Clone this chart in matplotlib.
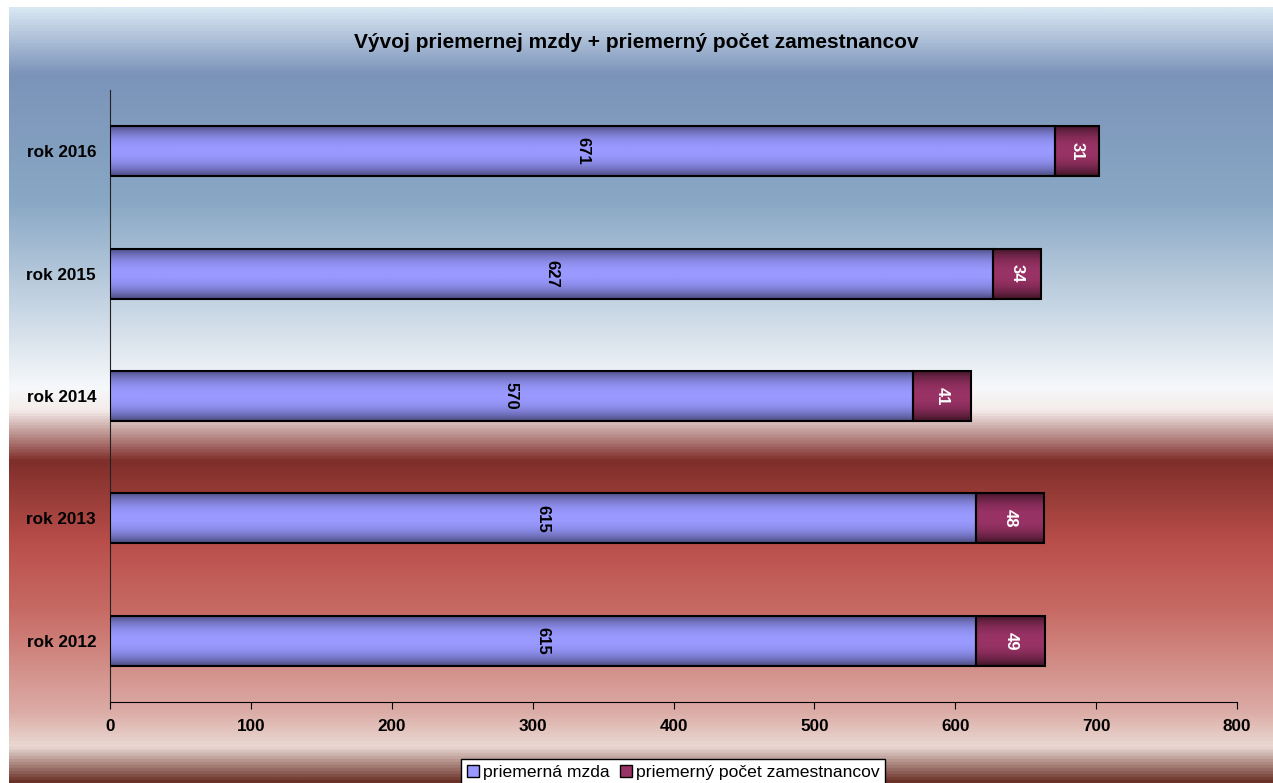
import numpy as np
import matplotlib.pyplot as plt
from matplotlib.colors import LinearSegmentedColormap
from matplotlib.patches import Patch

# Data
years = ['rok 2012', 'rok 2013', 'rok 2014', 'rok 2015', 'rok 2016']
mzda = [615, 615, 570, 627, 671]
pocet = [49, 48, 41, 34, 31]

plt.rcParams['font.family'] = ['Liberation Sans', 'DejaVu Sans']

fig = plt.figure(figsize=(12.73, 7.83), dpi=100)
fig.patch.set_facecolor('white')

# background gradient
bg = fig.add_axes([9 / 1273, 0, 1 - 9 / 1273, 1 - 7 / 783], zorder=0)
bg_stops = [(0.0, '#d9e7f3'), (0.085, '#7b93b9'), (0.25, '#89a8c5'),
            (0.49, '#f6f8fb'), (0.52, '#f4ecea'), (0.585, '#7f2e2a'),
            (0.69, '#b94e4a'), (0.78, '#c86b65'), (0.91, '#dcaca6'),
            (0.955, '#ead9d3'), (1.0, '#6a3128')]
bg_cmap = LinearSegmentedColormap.from_list('bg', bg_stops)
bg.imshow(np.linspace(0, 1, 512).reshape(-1, 1), aspect='auto', cmap=bg_cmap,
          extent=[0, 1, 1, 0])
bg.axis('off')

ax = fig.add_axes([110 / 1273, 81 / 783, 1127 / 1273, 612 / 783], zorder=1)
ax.patch.set_alpha(0)

y = np.arange(len(years))
h = 0.41
b1 = ax.barh(y, mzda, height=h, color='#9999ff', edgecolor='black', linewidth=1.5, zorder=3)
b2 = ax.barh(y, pocet, left=mzda, height=h, color='#993366', edgecolor='black', linewidth=1.5, zorder=3)

# shading inside bars
grad = np.abs(np.linspace(-1, 1, 64)).reshape(-1, 1) ** 2.2
blue_cm = LinearSegmentedColormap.from_list('b', ['#9999ff', '#4b4b80'])
red_cm = LinearSegmentedColormap.from_list('r', ['#993366', '#3f1426'])
for bars, cm in ((b1, blue_cm), (b2, red_cm)):
    for p in bars:
        x0, y0 = p.get_x(), p.get_y()
        im = ax.imshow(grad, aspect='auto', cmap=cm, zorder=3.5,
                       extent=[x0, x0 + p.get_width(), y0, y0 + p.get_height()])
        im.set_clip_path(p)
        p.set_facecolor('none')
        p.set_zorder(4)

for i in range(len(years)):
    ax.text(mzda[i] / 2, y[i], str(mzda[i]), rotation=270, ha='center', va='center',
            fontsize=12, fontweight='bold', color='black', zorder=5)
    ax.text(mzda[i] + pocet[i] / 2, y[i], str(pocet[i]), rotation=270, ha='center',
            va='center', fontsize=12, fontweight='bold', color='white', zorder=5)

ax.set_xlim(0, 800)
ax.set_ylim(-0.5, len(years) - 0.5)
ax.set_xticks(range(0, 801, 100))
ax.set_yticks(y)
ax.set_yticklabels(years)
for lab in ax.get_xticklabels() + ax.get_yticklabels():
    lab.set_fontweight('bold')
    lab.set_fontsize(12.3)
ax.tick_params(axis='y', length=0, pad=10)
ax.tick_params(axis='x', length=5, direction='out', pad=7)
ax.spines['top'].set_visible(False)
ax.spines['right'].set_visible(False)
ax.spines['left'].set_color('#222222')

fig.text(0.5, 1 - 43 / 783, 'Vývoj priemernej mzdy + priemerný počet zamestnancov',
         ha='center', va='center', fontsize=15, fontweight='bold')

handles = [Patch(facecolor='#9999ff', edgecolor='black'),
           Patch(facecolor='#993366', edgecolor='black')]
leg = fig.legend(handles, ['priemerná mzda', 'priemerný počet zamestnancov'],
                 loc='lower center', bbox_to_anchor=(673 / 1273, -3 / 783), ncol=2,
                 fontsize=12.6, frameon=True, fancybox=False, handlelength=0.7,
                 handleheight=0.7, handletextpad=0.2, columnspacing=0.6,
                 borderpad=0.35, borderaxespad=0)
leg.get_frame().set_edgecolor('black')
leg.get_frame().set_facecolor('white')
leg.get_frame().set_alpha(1)

fig.savefig('out.png', dpi=100)
